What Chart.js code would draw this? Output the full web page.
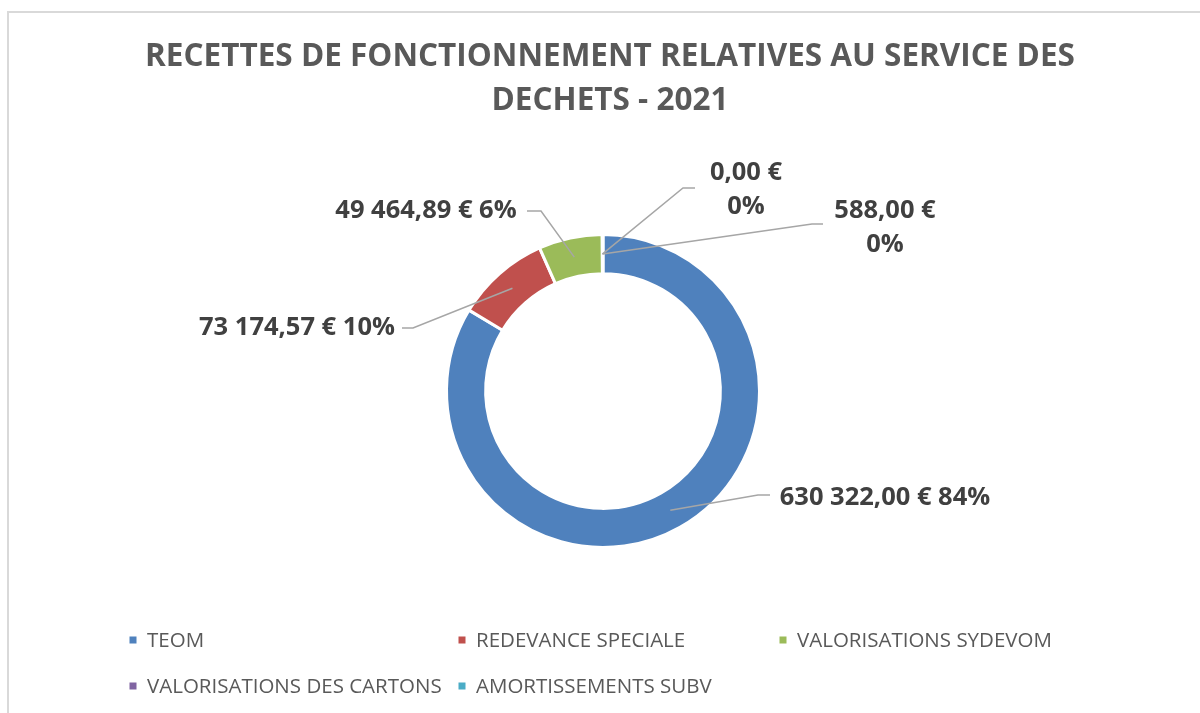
<!DOCTYPE html>
<html>
<head>
<meta charset="utf-8">
<script src="https://cdn.jsdelivr.net/npm/chart.js@4.4.0/dist/chart.umd.min.js"></script>
<style>
  html, body { margin: 0; padding: 0; background: #fff; overflow: hidden; }
  #wrap { position: relative; width: 1200px; height: 713px; overflow: hidden; }
  #cadre { position: absolute; left: 7px; top: 11px; width: 1300px; height: 800px; border: 2px solid #d9d9d9; box-sizing: border-box; }
  canvas { position: absolute; left: 0; top: 0; }
</style>
</head>
<body>
<div id="wrap">
  <div id="cadre"></div>
  <canvas id="donut" width="1200" height="713"></canvas>
</div>
<script>
// Données
var titre = ['RECETTES DE FONCTIONNEMENT RELATIVES AU SERVICE DES', 'DECHETS - 2021'];
var categories = ['TEOM', 'REDEVANCE SPECIALE', 'VALORISATIONS SYDEVOM', 'VALORISATIONS DES CARTONS', 'AMORTISSEMENTS SUBV'];
var montants = [630322.00, 73174.57, 49464.89, 0, 588.00];
var pourcentages = ['84%', '10%', '6%', '0%', '0%'];
var couleurs = ['#4f81bd', '#c0504d', '#9bbb59', '#8064a2', '#4bacc6'];

// Placement des étiquettes (relatif au centre de l'anneau)
var etiquettes = [
  { fin: [167, 104], coude: -12, texte: [282, 107], deuxLignes: false },
  { fin: [-201, -63], coude: 11, texte: [-306, -63], deuxLignes: false },
  { fin: [-76, -180], coude: 14, texte: [-177, -180], deuxLignes: false },
  { fin: [92, -203], coude: -12, texte: [143, -218], deuxLignes: true },
  { fin: [220, -167], coude: -11, texte: [282, -180], deuxLignes: true }
];

// Colonnes / lignes de la légende
var legendeX = [133, 462, 783];
var legendeY = [640, 686];

function formatEuro(v) {
  var parts = v.toFixed(2).split('.');
  var entier = parts[0].replace(/\B(?=(\d{3})+(?!\d))/g, ' ');
  return entier + ',' + parts[1] + ' €';
}

var decorations = {
  id: 'decorations',
  afterDraw: function(chart) {
    var ctx = chart.ctx;
    var meta = chart.getDatasetMeta(0);
    ctx.save();

    // Titre
    ctx.fillStyle = '#595959';
    ctx.font = 'bold 31.5px "Open Sans"';
    ctx.textAlign = 'center';
    ctx.textBaseline = 'middle';
    ctx.fillText(titre[0], 610, 57);
    ctx.fillText(titre[1], 610, 101);

    // Étiquettes de données avec lignes de repère
    meta.data.forEach(function(arc, i) {
      var e = etiquettes[i];
      var cx = arc.x, cy = arc.y;
      var p = arc.tooltipPosition();
      var fx = cx + e.fin[0], fy = cy + e.fin[1];
      ctx.strokeStyle = '#a6a6a6';
      ctx.lineWidth = 1.5;
      ctx.beginPath();
      ctx.moveTo(p.x, p.y);
      ctx.lineTo(fx + e.coude, fy);
      ctx.lineTo(fx, fy);
      ctx.stroke();

      ctx.fillStyle = '#404040';
      ctx.font = 'bold 25.5px "Open Sans"';
      ctx.textAlign = 'center';
      ctx.textBaseline = 'middle';
      var tx = cx + e.texte[0], ty = cy + e.texte[1];
      var valeur = formatEuro(montants[i]);
      if (e.deuxLignes) {
        ctx.fillText(valeur, tx, ty);
        ctx.fillText(pourcentages[i], tx, ty + 34);
      } else {
        ctx.fillText(valeur + ' ' + pourcentages[i], tx, ty);
      }
    });

    // Légende
    ctx.font = '20.5px "Open Sans"';
    ctx.textAlign = 'left';
    ctx.textBaseline = 'middle';
    categories.forEach(function(nom, i) {
      var x = legendeX[i % 3];
      var y = legendeY[Math.floor(i / 3)];
      ctx.fillStyle = couleurs[i];
      ctx.fillRect(x - 3.5, y - 3.5, 7, 7);
      ctx.fillStyle = '#595959';
      ctx.fillText(nom, x + 14, y + 1);
    });

    ctx.restore();
  }
};

var ctx = document.getElementById('donut').getContext('2d');
window.myChart = new Chart(ctx, {
  type: 'doughnut',
  data: {
    labels: categories,
    datasets: [{
      data: montants,
      backgroundColor: couleurs,
      borderColor: '#ffffff',
      borderWidth: 3
    }]
  },
  options: {
    responsive: false,
    animation: false,
    radius: 156.5,
    cutout: '75%',
    layout: { padding: { left: 6, right: 0, top: 100, bottom: 31 } },
    plugins: {
      legend: { display: false },
      title: { display: false },
      tooltip: { enabled: false }
    }
  },
  plugins: [decorations]
});
</script>
</body>
</html>
